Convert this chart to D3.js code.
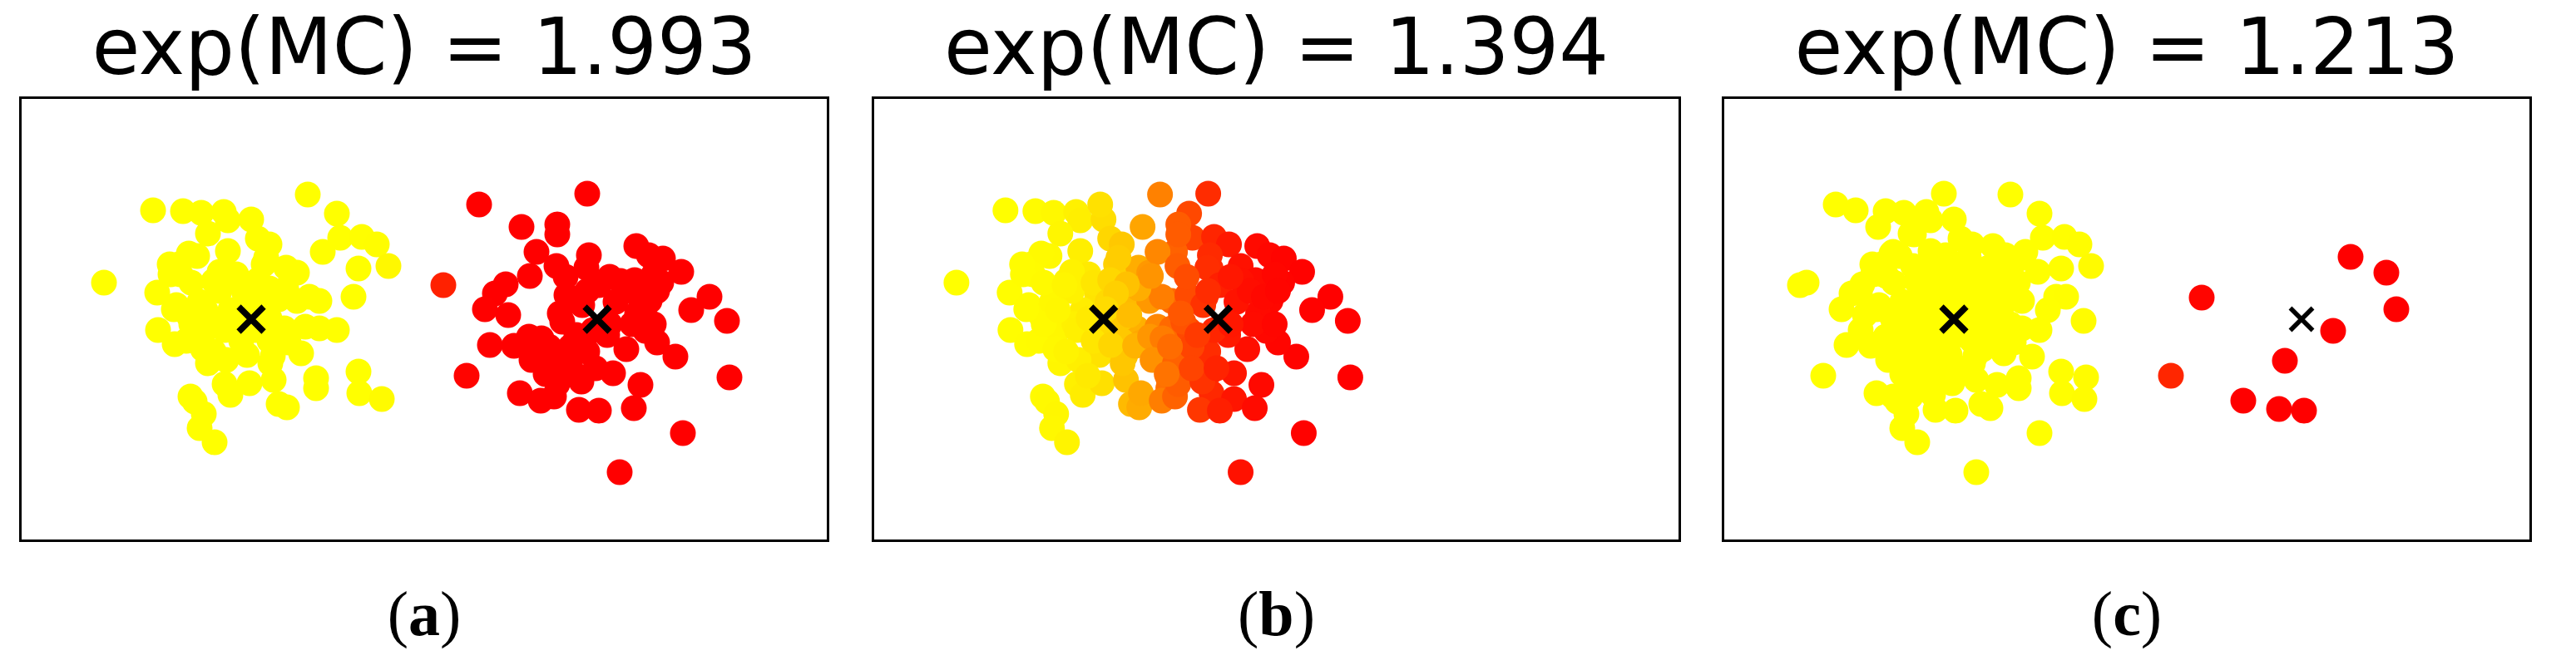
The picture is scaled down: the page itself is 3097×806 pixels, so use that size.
<!DOCTYPE html>
<html>
<head>
<meta charset="utf-8">
<script src="https://cdn.jsdelivr.net/npm/d3@7"></script>
<style>
  html, body { margin: 0; padding: 0; background: #fff; }
</style>
</head>
<body>
<div id="chart"></div>
<script>
// point offsets of the two blobs, relative to their own centre (data units)
const blobYellow = [
  [-1.18, 1.31], [-0.82, 1.30], [-0.60, 1.28], [-0.33, 1.29], [-0.28, 1.19], [0.00, 1.20],
  [-0.52, 1.03], [0.08, 0.97], [0.22, 0.90], [-0.28, 0.82], [0.68, 1.50], [1.03, 1.27],
  [1.07, 0.98], [1.33, 0.99], [1.51, 0.90], [0.86, 0.81], [1.29, 0.61], [1.65, 0.64],
  [1.23, 0.27], [-1.77, 0.44], [-0.87, 0.66], [-0.65, 0.76], [-0.75, 0.79], [-0.85, 0.54],
  [-0.18, 0.54], [-0.45, 0.46], [0.15, 0.66], [0.42, 0.62], [0.55, 0.56], [-1.13, 0.32],
  [-0.90, 0.17], [-0.75, 0.04], [-0.62, 0.21], [-0.08, 0.31], [0.22, 0.37], [0.33, 0.24],
  [0.55, 0.22], [0.82, 0.22], [0.70, 0.27], [-0.25, 0.11], [-1.12, -0.13], [-0.92, -0.30],
  [-0.78, -0.26], [-0.55, -0.13], [-0.35, -0.06], [0.05, -0.13], [0.40, -0.11], [0.65, -0.09],
  [0.82, -0.11], [1.03, -0.13], [-0.05, -0.43], [0.26, -0.44], [0.60, -0.41], [-0.52, -0.53],
  [-0.30, -0.49], [-0.32, -0.78], [-0.25, -0.91], [-0.02, -0.77], [0.27, -0.73], [0.23, -0.53],
  [0.78, -0.71], [0.78, -0.83], [0.33, -1.02], [0.43, -1.06], [1.29, -0.63], [1.30, -0.89],
  [1.57, -0.96], [-0.73, -0.93], [-0.68, -0.99], [-0.57, -1.14], [-0.62, -1.31], [-0.44, -1.48],
  [-0.38, 0.34], [-0.32, -0.13], [-0.12, -0.26], [0.05, 0.07], [-0.58, -0.36], [-0.45, -0.39],
  [0.18, 0.74], [-0.98, 0.66], [-0.97, 0.54], [-0.72, 0.44], [-0.38, 0.57], [-0.12, 0.44],
  [0.08, 0.47], [0.42, 0.37], [0.05, 0.21], [-0.18, 0.01], [0.22, 0.01], [0.22, -0.26],
  [0.45, -0.28], [-0.72, -0.06], [-0.93, 0.12], [-0.55, 0.11]
]

const blobRed = [
  [-1.42, 1.38], [-0.12, 1.51], [-0.91, 1.11], [-0.48, 1.14], [-0.48, 1.02], [-0.73, 0.81],
  [-0.49, 0.64], [-0.10, 0.77], [-0.13, 0.62], [-0.81, 0.52], [-1.10, 0.42], [-1.23, 0.31],
  [-1.35, 0.12], [-1.07, 0.05], [-1.85, 0.41], [0.47, 0.88], [0.62, 0.77], [0.79, 0.73],
  [1.01, 0.57], [0.77, 0.44], [0.45, 0.47], [0.28, 0.46], [0.02, 0.41], [-0.37, 0.29],
  [0.63, 0.22], [1.35, 0.27], [1.13, 0.11], [1.56, -0.02], [1.59, -0.70], [1.03, -1.37],
  [0.27, -1.84], [-1.57, -0.68], [-1.29, -0.31], [-1.00, -0.32], [-0.82, -0.21], [-0.67, -0.23],
  [-0.79, -0.49], [-0.42, -0.03], [-0.52, -0.53], [-0.93, -0.89], [-0.68, -0.98], [-0.52, -0.93],
  [-0.48, -0.78], [-0.22, -1.09], [0.02, -1.10], [-0.19, -0.75], [0.19, -0.65], [0.52, -0.79],
  [0.44, -1.07], [0.94, -0.45], [0.72, -0.28], [0.58, -0.14], [0.35, -0.36], [0.12, -0.19],
  [-0.12, -0.39], [-0.32, -0.33], [0.48, 0.07], [0.22, 0.21], [-0.18, 0.17], [0.42, -0.06],
  [-0.05, -0.13], [-0.25, -0.19], [0.15, -0.06], [-0.12, 0.34], [0.38, 0.34], [0.15, 0.51],
  [-0.32, -0.59], [-0.02, -0.59], [-0.58, -0.33], [-0.45, 0.07], [-0.62, -0.66], [-0.38, 0.51],
  [0.68, 0.54], [0.55, 0.27], [0.72, 0.34], [0.68, -0.06]
]

// the few separate points of panel (c)
const extraRed = [
  [0.90, 0.26], [2.69, 0.75], [3.12, 0.56], [3.24, 0.12], [2.48, -0.14],
  [1.90, -0.50], [0.53, -0.68], [1.40, -0.98], [1.83, -1.08], [2.13, -1.10]
]

const panelLabels = ['a', 'b', 'c']
const mcValues = ['1.993', '1.394', '1.213']
const yellowBlobAt = [-2.08, -2.08, -2.08]
const redBlobAt = [2.08, -0.70, -2.08]
const crossYellow = [-2.08, -2.08, -2.08]
const crossRed = [2.08, -0.70, 2.10]
// soft assignment: where the colour turns and how sharp
const mixMid = [0.0, -1.39, 0.24]
const mixSlope = [8.3, 2.76, 6.0]

const W = 3097, H = 806
const panelLeft = [24.5, 1049.5, 2071.5]
const panelWidth = [971, 970, 971]
const plotTop = 117.5, plotHeight = 533

const svg = d3.select('#chart').append('svg')
  .attr('width', W).attr('height', H)

const colour = d3.scaleLinear().domain([0, 1]).range(['#ffff00', '#ff0000'])
  .interpolate(d3.interpolateRgb)

panelLabels.forEach((lab, i) => {
  const left = panelLeft[i], width = panelWidth[i]
  const x = d3.scaleLinear().domain([-4.855, 4.855]).range([left, left + width])
  const y = d3.scaleLinear().domain([-2.665, 2.665]).range([plotTop + plotHeight, plotTop])

  const g = svg.append('g')

  const pts = []
  blobYellow.forEach(d => pts.push([yellowBlobAt[i] + d[0], d[1]]))
  blobRed.forEach(d => pts.push([redBlobAt[i] + d[0], d[1]]))
  if (i === 2) extraRed.forEach(d => pts.push(d))

  const share = px => 1 / (1 + Math.exp(-mixSlope[i] * (px - mixMid[i])))

  g.selectAll('circle')
    .data(pts)
    .join('circle')
    .attr('cx', d => x(d[0]))
    .attr('cy', d => y(d[1]))
    .attr('r', 15.5)
    .attr('fill', d => colour(share(d[0])))

  // cluster centres (the small red group in (c) gets a lighter cross)
  const crosses = [
    { cx: crossYellow[i], s: 15, w: 7.5 },
    { cx: crossRed[i], s: i === 2 ? 13.5 : 15, w: i === 2 ? 5.5 : 7.5 }
  ]
  g.selectAll('path.cross')
    .data(crosses)
    .join('path')
    .attr('class', 'cross')
    .attr('transform', d => `translate(${x(d.cx)},${y(0)})`)
    .attr('d', d => `M${-d.s},${-d.s}L${d.s},${d.s}M${-d.s},${d.s}L${d.s},${-d.s}`)
    .attr('stroke', '#000')
    .attr('stroke-width', d => d.w)
    .attr('fill', 'none')

  g.append('rect')
    .attr('x', left).attr('y', plotTop)
    .attr('width', width).attr('height', plotHeight)
    .attr('fill', 'none')
    .attr('stroke', '#000')
    .attr('stroke-width', 3)

  g.append('text')
    .attr('x', left + width / 2)
    .attr('y', 89)
    .attr('text-anchor', 'middle')
    .attr('font-family', 'DejaVu Sans')
    .attr('font-size', 94)
    .text(`exp(MC) = ${mcValues[i]}`)

  const t = g.append('text')
    .attr('x', left + width / 2)
    .attr('y', 764)
    .attr('text-anchor', 'middle')
    .attr('font-family', 'Liberation Serif')
    .attr('font-size', 76)
  t.append('tspan').text('(')
  t.append('tspan').attr('font-weight', 'bold').text(lab)
  t.append('tspan').text(')')
})
</script>
</body>
</html>
